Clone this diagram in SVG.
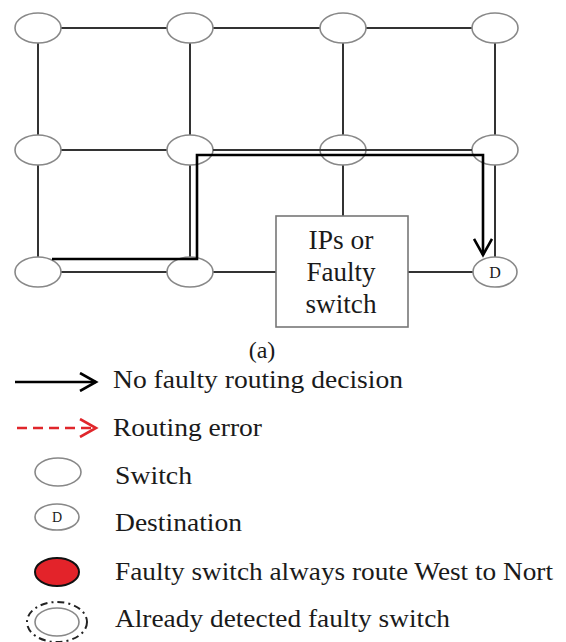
<svg xmlns="http://www.w3.org/2000/svg" width="566" height="642" viewBox="0 0 566 642">
<style>
.grid{stroke:#333;stroke-width:2;fill:none}
.sw{fill:#fff;stroke:#888;stroke-width:1.6}
.route{stroke:#000;stroke-width:2.6;fill:none}
text{font-family:'Liberation Serif','Times New Roman',serif;fill:#1a1a1a}
</style>
<defs>
<marker id="chev" markerWidth="20" markerHeight="20" refX="17" refY="10" orient="auto" markerUnits="userSpaceOnUse">
<path d="M1,1 L17,10 L1,19" fill="none" stroke="#000" stroke-width="2.6"/>
</marker>
<marker id="chevr" markerWidth="20" markerHeight="20" refX="17" refY="10" orient="auto" markerUnits="userSpaceOnUse">
<path d="M1,1 L17,10 L1,19" fill="none" stroke="#e0262b" stroke-width="2.6"/>
</marker>
</defs>
<rect width="566" height="642" fill="#fff"/>
<g id="connectors">
<path class="grid" d="M38,28 H495 M38,150 H495 M38,272 H190 M190,272 H276 M408,272 H473"/>
<path class="grid" d="M38,28 V272 M190,28 V272 M343,28 V216 M495,28 V258"/>
</g>
<g id="n11"><ellipse class="sw" cx="38" cy="28" rx="23" ry="15"/></g>
<g id="n12"><ellipse class="sw" cx="190" cy="28" rx="23" ry="15"/></g>
<g id="n13"><ellipse class="sw" cx="343" cy="28" rx="23" ry="15"/></g>
<g id="n14"><ellipse class="sw" cx="495" cy="28" rx="23" ry="15"/></g>
<g id="n21"><ellipse class="sw" cx="38" cy="150" rx="23" ry="15"/></g>
<g id="n22"><ellipse class="sw" cx="190" cy="150" rx="23" ry="15"/></g>
<g id="n23"><ellipse class="sw" cx="343" cy="150" rx="23" ry="15"/></g>
<g id="n24"><ellipse class="sw" cx="495" cy="150" rx="23" ry="15"/></g>
<g id="n31"><ellipse class="sw" cx="38" cy="272" rx="23" ry="15"/></g>
<g id="n32"><ellipse class="sw" cx="190" cy="272" rx="23" ry="15"/></g>
<g id="route"><path class="grid" d="M213,150 H472"/>
<path class="route" d="M52,259 H197 V155 H483 V255" marker-end="url(#chev)"/></g>
<g id="box"><rect x="276" y="216" width="132" height="111" fill="#fff" stroke="#777" stroke-width="1.6"/>
<text x="341" y="249" font-size="27" text-anchor="middle" textLength="65" lengthAdjust="spacingAndGlyphs">IPs or</text>
<text x="341" y="281" font-size="27" text-anchor="middle" textLength="69" lengthAdjust="spacingAndGlyphs">Faulty</text>
<text x="341" y="313" font-size="27" text-anchor="middle" textLength="71" lengthAdjust="spacingAndGlyphs">switch</text></g>
<g id="dest"><ellipse class="sw" cx="495" cy="272" rx="22" ry="15"/>
<text x="495" y="278" font-size="16" text-anchor="middle">D</text></g>
<text x="262" y="358" font-size="24" text-anchor="middle">(a)</text>
<g id="legend">
<line x1="15" y1="382" x2="96" y2="382" stroke="#000" stroke-width="2.6" marker-end="url(#chev)"/>
<text x="113" y="388" font-size="26" textLength="290" lengthAdjust="spacingAndGlyphs">No faulty routing decision</text>
<line x1="17" y1="428" x2="96" y2="428" stroke="#e0262b" stroke-width="2.6" stroke-dasharray="10,6" marker-end="url(#chevr)"/>
<text x="113" y="436" font-size="26" textLength="149" lengthAdjust="spacingAndGlyphs">Routing error</text>
<ellipse class="sw" cx="58" cy="472" rx="23" ry="14"/>
<text x="115" y="484" font-size="26" textLength="77" lengthAdjust="spacingAndGlyphs">Switch</text>
<ellipse class="sw" cx="57" cy="517" rx="22" ry="13"/>
<text x="57" y="522" font-size="14" text-anchor="middle">D</text>
<text x="115" y="531" font-size="26" textLength="127" lengthAdjust="spacingAndGlyphs">Destination</text>
<ellipse cx="57" cy="572" rx="22" ry="14" fill="#e3232a" stroke="#111" stroke-width="2"/>
<text x="115" y="580" font-size="26" textLength="438" lengthAdjust="spacingAndGlyphs">Faulty switch always route West to Nort</text>
<ellipse cx="57" cy="622" rx="30" ry="20" fill="none" stroke="#222" stroke-width="2" stroke-dasharray="7,4,2,4"/>
<ellipse class="sw" cx="57" cy="622" rx="22" ry="14"/>
<text x="115" y="627" font-size="26" textLength="335" lengthAdjust="spacingAndGlyphs">Already detected faulty switch</text>
</g>
</svg>
